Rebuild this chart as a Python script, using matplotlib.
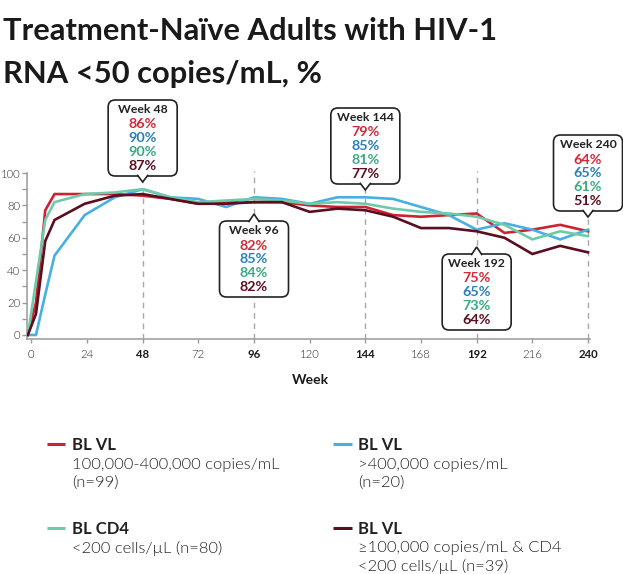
import matplotlib
matplotlib.use("Agg")
import matplotlib.pyplot as plt
from matplotlib.patches import FancyBboxPatch, Polygon

# data
weeks = [-1.5, 2, 6, 10, 23, 36, 48, 60, 72, 84, 96, 108, 120, 132, 144,
         156, 168, 180, 192, 204, 216, 228, 240]
vl_100k_400k = [0, 20, 77, 87, 87, 87, 86, 84, 81, 82, 82, 82, 80, 79, 79,
                74, 73, 74, 75, 63, 65, 68, 64]
vl_over_400k = [0, 0, 25, 49, 74, 85, 90, 85, 84, 79, 85, 84, 81, 85, 85,
                84, 79, 74, 65, 69, 65, 59, 65]
cd4_under_200 = [0, 33, 71, 82, 87, 88, 90, 85, 82, 83, 84, 83, 81, 82, 81,
                 78, 76, 75, 73, 68, 59, 64, 61]
vl_and_cd4 = [0, 13, 58, 71, 81, 86, 87, 84, 81, 81, 82, 82, 76, 78, 77,
              73, 66, 66, 64, 60, 50, 55, 51]

series = [vl_100k_400k, vl_over_400k, cd4_under_200, vl_and_cd4]
line_colors = ["#cc2232", "#48b0e0", "#6ecbaa", "#5a0e1f"]
text_colors = ["#d02a37", "#2b7fb8", "#3aa985", "#5a0e1f"]

legend_titles = ["BL VL", "BL VL", "BL CD4", "BL VL"]
legend_bodies = [["100,000-400,000 copies/mL", "(n=99)"],
                 [">400,000 copies/mL", "(n=20)"],
                 ["<200 cells/µL (n=80)"],
                 ["≥100,000 copies/mL & CD4", "<200 cells/µL (n=39)"]]

x_ticks = list(range(0, 241, 24))
callout_weeks = [48, 96, 144, 192, 240]

title_lines = ["Treatment-Naïve Adults with HIV-1", "RNA <50 copies/mL, %"]

FAM = ["Lato", "DejaVu Sans"]
LIGHT = 300
W, H = 623, 574

fig = plt.figure(figsize=(W / 100, H / 100), dpi=100)
renderer = fig.canvas.get_renderer()


def fit(text, target, weight):
    t = fig.text(0, 0, text, fontsize=10, fontweight=weight, family=FAM)
    w = t.get_window_extent(renderer).width
    t.remove()
    return 10 * target / w


title_fs = fit(title_lines[0], 494, "bold")
head_fs = fit("Week 48", 50, "bold")
pct_fs = fit("86%", 28.5, "bold")
leg_fs = fit(legend_bodies[0][0], 206, LIGHT)
legt_fs = fit("BL CD4", 57, "bold")
tick_fs = fit("216", 20, LIGHT)
xlab_fs = fit("Week", 37, "bold")

ax = fig.add_axes([26.7 / W, 1 - 339 / H, (590 - 26.7) / W, (339 - 173) / H])
for s, c in zip(series, line_colors):
    ax.plot(weeks, s, color=c, lw=1.9, solid_joinstyle="miter", zorder=3)

ax.set_xlim(-2.0, 240.86)
ax.set_ylim(-2.5, 100)
for side in ["top", "right"]:
    ax.spines[side].set_visible(False)
for side in ["left", "bottom"]:
    ax.spines[side].set_color("#9a9a9a")
    ax.spines[side].set_linewidth(1.1)

ax.set_xticks(x_ticks)
ax.set_xticklabels([str(t) for t in x_ticks])
for lab, t in zip(ax.get_xticklabels(), x_ticks):
    lab.set_family(FAM)
    lab.set_fontsize(tick_fs)
    lab.set_color("#2a2a2a" if t % 48 else "#1a1a1a")
    if t % 48 == 0 and t > 0:
        lab.set_fontweight("bold")
    else:
        lab.set_fontweight(LIGHT)
ax.set_yticks(range(0, 101, 20))
ax.set_yticks(range(10, 100, 20), minor=True)
for lab in ax.get_yticklabels():
    lab.set_family(FAM)
    lab.set_fontsize(tick_fs)
    lab.set_fontweight(LIGHT)
    lab.set_color("#2a2a2a")
ax.tick_params(axis="x", length=3, width=1, color="#9a9a9a", pad=4)
ax.tick_params(axis="y", which="both", length=3.6, width=1, color="#9a9a9a", pad=1.2)


def px(week):
    return ax.transData.transform((week, 0))[0]


def py_to_val(py):
    return ax.transData.inverted().transform((0, H - py))[1]


# overlay in pixel coordinates for callouts, titles and legend
ov = fig.add_axes([0, 0, 1, 1])
ov.set_xlim(0, W)
ov.set_ylim(H, 0)
ov.axis("off")

box_tops = [100, 221, 108, 254, 135]
pointer_dirs = ["down", "up", "down", "up", "down"]
bw, bh, tip = 69, 76, 6

for wk, top, d in zip(callout_weeks, box_tops, pointer_dirs):
    cx = px(wk)
    i = weeks.index(wk)
    if d == "down":
        line_top = top + bh + tip
    else:
        line_top = 171
    ax.plot([wk, wk], [-2.5, py_to_val(line_top)], color="#a8a8a8", lw=1,
            ls=(0, (4, 3.5)), clip_on=False, zorder=1)
    box = FancyBboxPatch((cx - bw / 2, top), bw, bh,
                         boxstyle="round,pad=0,rounding_size=7",
                         fc="white", ec="#222222", lw=1.2, zorder=5)
    ov.add_patch(box)
    if d == "down":
        pts = [(cx - 5.5, top + bh - 1.2), (cx, top + bh + tip), (cx + 5.5, top + bh - 1.2)]
    else:
        pts = [(cx - 5.5, top + 1.2), (cx, top - tip - 1), (cx + 5.5, top + 1.2)]
    ov.add_patch(Polygon(pts, closed=False, fc="white", ec="#222222", lw=1.2, zorder=6))
    ov.text(cx, top + 9.5, f"Week {wk}", ha="center", va="center", family=FAM,
            fontsize=head_fs, fontweight="bold", color="#222222", zorder=7)
    for k, (s, c) in enumerate(zip(series, text_colors)):
        ov.text(cx, top + 24.5 + k * 13.8, f"{s[i]}%", ha="center", va="center",
                family=FAM, fontsize=pct_fs, fontweight="bold", color=c, zorder=7)

# titles
for k, line in enumerate(title_lines):
    ov.text(3, 40 + k * 43, line, ha="left", va="baseline", family=FAM,
            fontsize=title_fs, fontweight="bold", color="#1a1a1a")

ov.text((26.7 + 590) / 2 + 2, 380, "Week", ha="center", va="center", family=FAM,
        fontsize=xlab_fs, fontweight="bold", color="#1a1a1a")

# legend
leg_x = [(46.7, 72), (333, 358), (46.7, 72), (333, 358)]
leg_y = [445, 445, 528.5, 528.5]
for (lx, tx), ty, c, t, body in zip(leg_x, leg_y, line_colors, legend_titles, legend_bodies):
    ov.plot([lx, lx + 18.5], [ty - 1, ty - 1], color=c, lw=2.2, solid_capstyle="butt")
    ov.text(tx, ty, t, ha="left", va="center", family=FAM, fontsize=legt_fs,
            fontweight="bold", color="#222222")
    for j, b in enumerate(body):
        ov.text(tx, ty + 19.5 + j * 18.5, b, ha="left", va="center", family=FAM,
                fontsize=leg_fs, fontweight=LIGHT, color="#222222")

fig.savefig("out.png", dpi=100)
